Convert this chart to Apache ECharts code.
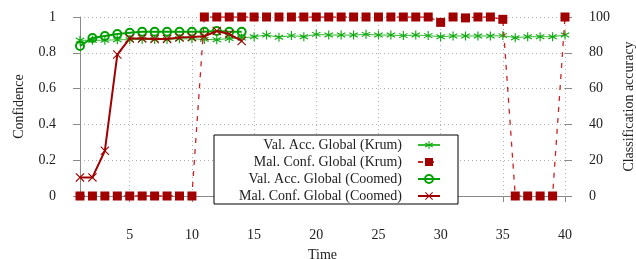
<!DOCTYPE html>
<html>
<head>
<meta charset="utf-8">
<script src="https://cdn.jsdelivr.net/npm/echarts@6/dist/echarts.min.js"></script>
<style>
  html, body { margin: 0; padding: 0; background: #fff; }
  #chart { width: 636px; height: 259px; }
</style>
</head>
<body>
<div id="chart"></div>
<script>
// time steps
var timeKrum = [1, 2, 3, 4, 5, 6, 7, 8, 9, 10, 11, 12, 13, 14, 15, 16, 17, 18, 19, 20,
                21, 22, 23, 24, 25, 26, 27, 28, 29, 30, 31, 32, 33, 34, 35, 36, 37, 38, 39, 40];
var timeCoomed = [1, 2, 3, 4, 5, 6, 7, 8, 9, 10, 11, 12, 13, 14];

// Val. Acc. Global (Krum) - right axis (%)
var valAccKrum = [87, 87, 87, 87.3, 87.3, 87.5, 87.5, 87.5, 87.8, 87.8, 87.5, 87.3, 88, 88.3, 89,
                  89.9, 88.7, 89.6, 89, 90.3, 89.9, 89.9, 89.9, 90.3, 89.9, 89.9, 89.6, 89.9, 89.6, 89,
                  89.4, 89.4, 89.4, 89.4, 89.6, 88.4, 89, 89, 89, 89.9];
// Mal. Conf. Global (Krum) - left axis
var malConfKrum = [0, 0, 0, 0, 0, 0, 0, 0, 0, 0, 1, 1, 1, 1, 1, 1, 1, 1, 1, 1,
                   1, 1, 1, 1, 1, 1, 1, 1, 1, 0.97, 1, 0.995, 1, 1, 0.987, 0, 0, 0, 0, 1];
// Val. Acc. Global (Coomed) - right axis (%)
var valAccCoomed = [83.8, 88.3, 89.4, 90.5, 91.2, 91.7, 91.7, 91.7, 91.8, 91.8, 91.8, 92.2, 91.8, 91.7];
// Mal. Conf. Global (Coomed) - left axis
var malConfCoomed = [0.104, 0.104, 0.253, 0.79, 0.88, 0.88, 0.877, 0.877, 0.886, 0.888, 0.892, 0.922, 0.905, 0.866];

var xTicks = [5, 10, 15, 20, 25, 30, 35, 40];
var confTicks = [0, 0.2, 0.4, 0.6, 0.8, 1];
var accTicks = [0, 20, 40, 60, 80, 100];

var FONT = 'Liberation Serif';
var GREEN = '#00a000';
var LIGHT_GREEN = '#33bb33';
var DARK_RED = '#a00000';
var RED = '#cc2222';

// asterisk and cross shapes (pgfplots style marks)
var asteriskPath = 'path://M8.8 0L11.2 0L11.2 20L8.8 20Z' +
  'M18.06 16.04L0.74 6.04L1.94 3.96L19.26 13.96Z' +
  'M19.26 6.04L1.94 16.04L0.74 13.96L18.06 3.96Z';
var crossPath = 'path://M0 1.7L1.7 0L10 8.3L18.3 0L20 1.7L11.7 10L20 18.3L18.3 20L10 11.7L1.7 20L0 18.3L8.3 10Z';

function pairs(xs, ys) {
  var out = [];
  for (var i = 0; i < xs.length; i++) {
    out.push([xs[i], ys[i]]);
  }
  return out;
}

var chart = echarts.init(document.getElementById('chart'), null, { renderer: 'canvas' });

var gridLine = { show: true, lineStyle: { color: '#b0b0b0', type: [1, 3], width: 1 } };
var axisLineStyle = { show: true, lineStyle: { color: '#8a8a8a', width: 1 } };
var nameStyle = { fontFamily: FONT, fontSize: 14, color: '#222' };
var labelStyle = { fontFamily: FONT, fontSize: 14, color: '#222' };

chart.setOption({
  animation: false,
  textStyle: { fontFamily: FONT },
  grid: { left: 80, right: 71, top: 17, bottom: 63, outerBoundsMode: 'none' },
  xAxis: {
    type: 'value',
    min: 1,
    max: 40,
    name: 'Time',
    nameLocation: 'middle',
    nameGap: 52,
    nameTextStyle: nameStyle,
    axisLine: axisLineStyle,
    axisTick: { show: true, length: 6, customValues: xTicks, lineStyle: { color: '#8a8a8a' } },
    axisLabel: Object.assign({ customValues: xTicks, margin: 32 }, labelStyle),
    splitLine: gridLine
  },
  yAxis: [{
    type: 'value',
    min: 0,
    max: 1,
    interval: 0.2,
    name: 'Confidence',
    nameLocation: 'middle',
    nameRotate: 90,
    nameGap: 54,
    nameTextStyle: nameStyle,
    axisLine: axisLineStyle,
    axisTick: { show: true, length: 7, lineStyle: { color: '#8a8a8a' } },
    axisLabel: Object.assign({
      margin: 24,
      formatter: function (v) { return String(confTicks[Math.round(v * 5)]); }
    }, labelStyle),
    splitLine: gridLine
  }, {
    type: 'value',
    min: 0,
    max: 100,
    interval: 20,
    position: 'right',
    name: 'Classification accuracy',
    nameLocation: 'middle',
    nameRotate: 90,
    nameGap: 57,
    nameTextStyle: nameStyle,
    axisLine: { show: false },
    axisTick: { show: true, length: 7, lineStyle: { color: '#8a8a8a' } },
    axisLabel: Object.assign({
      margin: 24,
      formatter: function (v) { return String(accTicks[Math.round(v / 20)]); }
    }, labelStyle),
    splitLine: { show: false }
  }],
  legend: {
    orient: 'vertical',
    left: 214,
    top: 135,
    align: 'right',
    padding: [3, 17, 1, 8],
    itemGap: 3,
    itemWidth: 22,
    itemHeight: 10,
    backgroundColor: '#fff',
    borderColor: '#000',
    borderWidth: 1,
    borderRadius: 0,
    z: 10,
    formatter: function (name) { return '{t|' + name + '}'; },
    textStyle: {
      rich: {
        t: { width: 180, align: 'right', padding: [0, 11, 0, 0], lineHeight: 14,
             fontFamily: FONT, fontSize: 14, color: '#222' }
      }
    },
    data: ['Val. Acc. Global (Krum)', 'Mal. Conf. Global (Krum)',
           'Val. Acc. Global (Coomed)', 'Mal. Conf. Global (Coomed)']
  },
  series: [{
    name: 'Val. Acc. Global (Krum)',
    type: 'line',
    yAxisIndex: 1,
    data: pairs(timeKrum, valAccKrum),
    symbol: asteriskPath,
    symbolSize: 9,
    itemStyle: { color: '#11aa11' },
    lineStyle: { color: LIGHT_GREEN, width: 1 },
    z: 2
  }, {
    name: 'Mal. Conf. Global (Krum)',
    type: 'line',
    yAxisIndex: 0,
    data: pairs(timeKrum, malConfKrum),
    symbol: 'rect',
    symbolSize: 9,
    itemStyle: { color: DARK_RED },
    lineStyle: { color: RED, width: 1.3, type: [5, 6] },
    z: 3
  }, {
    name: 'Val. Acc. Global (Coomed)',
    type: 'line',
    yAxisIndex: 1,
    data: pairs(timeCoomed, valAccCoomed),
    symbol: 'circle',
    symbolSize: 8,
    itemStyle: { color: 'rgba(255,255,255,0)', borderColor: GREEN, borderWidth: 2 },
    lineStyle: { color: GREEN, width: 2 },
    z: 4
  }, {
    name: 'Mal. Conf. Global (Coomed)',
    type: 'line',
    yAxisIndex: 0,
    data: pairs(timeCoomed, malConfCoomed),
    symbol: crossPath,
    symbolSize: 9,
    itemStyle: { color: DARK_RED },
    lineStyle: { color: DARK_RED, width: 2 },
    z: 5
  }]
});
</script>
</body>
</html>
